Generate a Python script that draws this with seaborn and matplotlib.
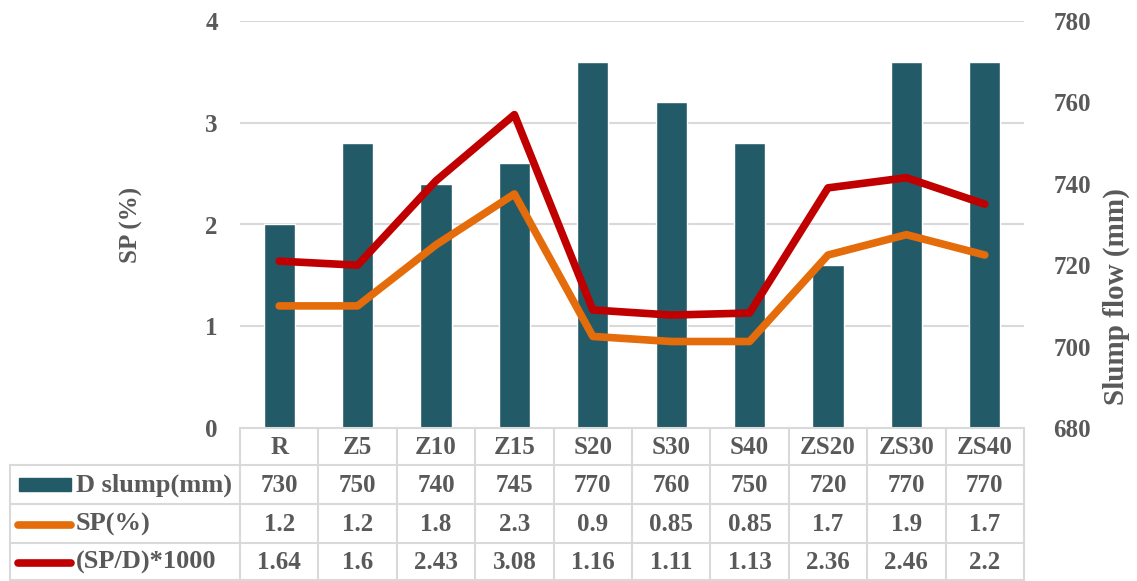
import numpy as np
import pandas as pd
import seaborn as sns
import matplotlib.pyplot as plt
from matplotlib.patches import Rectangle

categories = ['R', 'Z5', 'Z10', 'Z15', 'S20', 'S30', 'S40', 'ZS20', 'ZS30', 'ZS40']
slump = [730, 750, 740, 745, 770, 760, 750, 720, 770, 770]
sp = [1.2, 1.2, 1.8, 2.3, 0.9, 0.85, 0.85, 1.7, 1.9, 1.7]
sp_d = [1.64, 1.6, 2.43, 3.08, 1.16, 1.11, 1.13, 2.36, 2.46, 2.2]
sp_labels = ['1.2', '1.2', '1.8', '2.3', '0.9', '0.85', '0.85', '1.7', '1.9', '1.7']
sp_d_labels = ['1.64', '1.6', '2.43', '3.08', '1.16', '1.11', '1.13', '2.36', '2.46', '2.2']
row_names = ['D slump(mm)', 'SP(%)', '(SP/D)*1000']

teal = '#235A68'
orange = '#E46C0A'
red = '#C00000'
grid_c = '#D9D9D9'
txt_c = '#595959'

sns.set_style('white')
plt.rcParams['font.family'] = ['Liberation Serif', 'DejaVu Serif']
plt.rcParams['font.weight'] = 'bold'

df = pd.DataFrame({'cat': categories, 'pos': np.arange(len(categories)),
                   'slump': slump, 'sp': sp, 'sp_d': sp_d})

W, H = 1137, 581
fig = plt.figure(figsize=(W / 100, H / 100), dpi=100)
x0, x1, ytop, ybot = 240, 1024, 21, 428
ax = fig.add_axes([x0 / W, (H - ybot) / H, (x1 - x0) / W, (ybot - ytop) / H])

# bars on the slump axis (right side)
sns.barplot(data=df, x='pos', y='slump', ax=ax, color=teal, width=0.4,
            saturation=1, native_scale=True, zorder=2)

# lines on the SP axis (left side)
ax2 = ax.twinx()
sns.lineplot(data=df, x='pos', y='sp', ax=ax2, color=orange, lw=5.5,
             solid_capstyle='round', solid_joinstyle='round')
sns.lineplot(data=df, x='pos', y='sp_d', ax=ax2, color=red, lw=5.5,
             solid_capstyle='round', solid_joinstyle='round')

ax.set_ylim(680, 780)
ax.set_xlim(-0.5, 9.5)
ax.set_yticks(np.arange(680, 781, 20))
# gridlines follow the SP ticks (0..4), drawn behind the bars
ax.yaxis.remove_overlapping_locs = False
ax.set_yticks([705, 730, 755, 780], minor=True)
ax.yaxis.grid(True, which='minor', color=grid_c, lw=1.5, zorder=0)
ax.yaxis.grid(False, which='major')
ax.set_axisbelow(True)
ax.yaxis.tick_right()
ax.yaxis.set_label_position('right')
ax.tick_params(axis='y', which='both', length=0, pad=21, labelsize=18, labelcolor=txt_c)
ax.tick_params(axis='y', which='minor', labelright=False)
ax.set_ylabel('Slump flow (mm)', fontsize=21, color=txt_c, fontweight='bold')
ax.yaxis.set_label_coords(1.1, 0.324)
ax.set_xticks([])
ax.set_xlabel('')

ax2.set_ylim(0, 4)
ax2.set_yticks([0, 1, 2, 3, 4])
ax2.yaxis.tick_left()
ax2.yaxis.set_label_position('left')
ax2.tick_params(axis='y', length=0, pad=16, labelsize=18, labelcolor=txt_c)
ax2.set_ylabel('SP (%)', fontsize=18, color=txt_c, fontweight='bold')
ax2.yaxis.set_label_coords(-0.124, 0.5)
ax2.set_xticks([])
ax2.set_xlabel('')
ax2.set_xlim(-0.5, 9.5)

for a in (ax, ax2):
    for s in a.spines.values():
        s.set_visible(False)

# data table under the plot
col_w = (x1 - x0) / len(categories)
tl = 10
x_left = -0.5 - (x0 - tl) / col_w
tax = fig.add_axes([tl / W, 0, (x1 - tl) / W, (H - ybot) / H])
tax.set_xlim(x_left, 9.5)
tax.set_ylim(H - ybot, 0)
tax.axis('off')
rows_y = [0, 37, 76, 115, 152]


def px(v):
    return x_left + (v - tl) / col_w


lk = dict(color=grid_c, lw=1.5, clip_on=False)
tax.plot([-0.5, 9.5], [rows_y[0]] * 2, **lk)
for yy in rows_y[1:]:
    tax.plot([x_left, 9.5], [yy, yy], **lk)
for k in range(len(categories) + 1):
    tax.plot([k - 0.5] * 2, [rows_y[0], rows_y[-1]], **lk)
tax.plot([x_left] * 2, [rows_y[1], rows_y[-1]], **lk)

tk = dict(fontsize=18, color=txt_c, fontweight='bold', ha='center', va='center')
hc = (rows_y[0] + rows_y[1]) / 2
for i, c in enumerate(categories):
    tax.text(i, hc + 1, c, **tk)

table_rows = [[str(v) for v in slump], sp_labels, sp_d_labels]
for r, vals in enumerate(table_rows):
    yc = (rows_y[r + 1] + rows_y[r + 2]) / 2 + 1
    for i, v in enumerate(vals):
        tax.text(i, yc, v, **tk)
    tax.text(px(76), yc, row_names[r], fontsize=19, color=txt_c,
             fontweight='bold', ha='left', va='center')

# legend keys in the row labels
yc0 = (rows_y[1] + rows_y[2]) / 2
tax.add_patch(Rectangle((px(19), yc0 - 6.5), px(71) - px(19), 13, color=teal, clip_on=False))
for r, colr in [(1, orange), (2, red)]:
    yc = (rows_y[r + 1] + rows_y[r + 2]) / 2 + 1
    tax.plot([px(18), px(71)], [yc, yc], color=colr, lw=5.5,
             solid_capstyle='round', clip_on=False)

fig.savefig('out.png', dpi=100)
